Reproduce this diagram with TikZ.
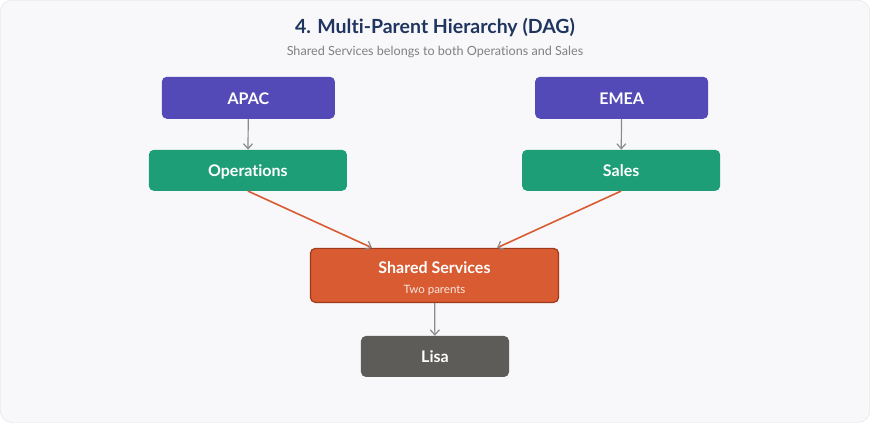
\documentclass[tikz,border=0pt]{standalone}
\usepackage{fontspec}
\setmainfont{Lato}[Ligatures={NoCommon,NoRare}]
\usetikzlibrary{arrows.meta,positioning}
\definecolor{bgc}{HTML}{F8F8FA}
\definecolor{navy}{HTML}{1F3560}
\definecolor{region}{HTML}{544AB7}
\definecolor{dept}{HTML}{1E9E76}
\definecolor{shared}{HTML}{D95B31}
\definecolor{shareddk}{HTML}{A03A1C}
\definecolor{person}{HTML}{5E5C58}
\definecolor{link}{HTML}{8A8A8A}

\begin{document}
\begin{tikzpicture}[x=1pt,y=-1pt,
    box/.style={rounded corners=5pt,text=white,font=\bfseries\fontsize{16}{18}\selectfont,align=center,inner sep=0pt},
    one/.style={text height=14pt,text depth=1pt},
    tree/.style={draw=link,line width=1.2pt,-{Straight Barb[length=5pt,width=9pt]}},
    cross/.style={draw=shared,line width=1.6pt,-{Straight Barb[length=5pt,width=9pt,color=link,line width=1.2pt]}}]
    \draw[fill=bgc,draw=gray!25,rounded corners=12pt] (0.5,0.5) rectangle (869.5,422.5);
    \node[font=\bfseries\fontsize{19.5}{22}\selectfont,text=navy] (title) at (435,28) {4. Mult{}i-Parent Hierarchy (DAG)};
    \node[font=\fontsize{12.6}{14}\selectfont,text=gray] (sub) at (435,52) {Shared Services belongs to both Operations and Sales};
    \node[box,one,fill=region,minimum width=173pt,minimum height=42pt] (apac) at (248.5,98) {APAC};
    \node[box,one,fill=region,minimum width=173pt,minimum height=42pt] (emea) at (621.5,98) {EMEA};
    \node[box,one,fill=dept,minimum width=198pt,minimum height=41pt] (ops) at (248,170.5) {Operations};
    \node[box,one,fill=dept,minimum width=198pt,minimum height=41pt] (sales) at (621,170.5) {Sales};
    \node[box,fill=shared,draw=shareddk,line width=1.2pt,minimum width=248pt,minimum height=54pt] (ss) at (434.5,275.5) {\rule{0pt}{18pt}Shared Services\\[2pt]{\mdseries\fontsize{11.5}{13}\selectfont\color{white!85!shared}Two parents}};
    \node[box,one,fill=person,minimum width=148pt,minimum height=41pt] (lisa) at (435,356.5) {Lisa};
    \draw[tree] (apac) -- (ops);
    \draw[tree] (emea) -- (sales);
    \draw[cross] (ops.south) -- (ss.north -| 372,0);
    \draw[cross] (sales.south) -- (ss.north -| 497,0);
    \draw[tree] (ss) -- (lisa);
\end{tikzpicture}
\end{document}
